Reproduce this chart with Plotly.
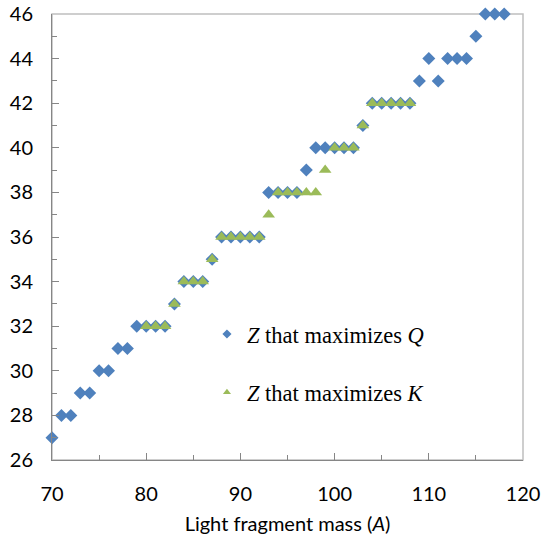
import plotly.graph_objects as go

mass_q = list(range(70, 119))
z_q = [27, 28, 28, 29, 29, 30, 30, 31, 31, 32, 32, 32, 32, 33, 34, 34, 34, 35,
       36, 36, 36, 36, 36, 38, 38, 38, 38, 39, 40, 40, 40, 40, 40, 41, 42, 42,
       42, 42, 42, 43, 44, 43, 44, 44, 44, 45, 46, 46, 46]
mass_k = list(range(80, 109))
z_k = [32, 32, 32, 33, 34, 34, 34, 35, 36, 36, 36, 36, 36, 37, 38, 38, 38, 38,
       38, 39, 40, 40, 40, 41, 42, 42, 42, 42, 42]

x_ticks = [70, 80, 90, 100, 110, 120]
y_ticks = [26, 28, 30, 32, 34, 36, 38, 40, 42, 44, 46]

name_q = "<i>Z</i> that maximizes <i>Q</i>"
name_k = "<i>Z</i> that maximizes <i>K</i>"

blue = "#4F81BD"
green = "#9BBB59"

fig = go.Figure()
fig.add_trace(go.Scatter(
    x=mass_q, y=z_q, mode="markers", name=name_q, showlegend=False,
    marker=dict(symbol="diamond", size=10, color=blue), cliponaxis=False))
fig.add_trace(go.Scatter(
    x=mass_k, y=z_k, mode="markers", name=name_k, showlegend=False,
    marker=dict(symbol="triangle-up", size=11, color=green), cliponaxis=False))
# legend entries (small markers, as in the reference legend)
fig.add_trace(go.Scatter(
    x=[None], y=[None], mode="markers", name=name_q, legendgroup="q",
    marker=dict(symbol="diamond", size=7, color=blue)))
fig.add_trace(go.Scatter(
    x=[None], y=[None], mode="markers", name=name_k, legendgroup="k",
    marker=dict(symbol="triangle-up", size=7, color=green)))

axis_font = dict(family="Lato, 'Open Sans', sans-serif", size=20, color="black")

fig.update_layout(
    width=542, height=543,
    margin=dict(l=52, r=19, t=14, b=83),
    paper_bgcolor="white", plot_bgcolor="white",
    showlegend=True,
    legend=dict(
        x=0.329, y=0.33, xanchor="left", yanchor="top",
        font=dict(family="'Liberation Serif', serif", size=22.5, color="black"),
        bgcolor="rgba(0,0,0,0)", traceorder="grouped", tracegroupgap=26,
        itemsizing="trace"),
    xaxis=dict(
        range=[70, 120], tickvals=x_ticks, ticks="inside", ticklen=7,
        tickcolor="#868686", showline=True, linecolor="#868686", linewidth=1,
        showgrid=False, zeroline=False, tickfont=axis_font, automargin=False,
        ticklabelstandoff=16,
        minor=dict(dtick=5, ticks="inside", ticklen=5, tickcolor="#868686"),
        title=dict(text="Light fragment mass (<i>A</i>)", font=axis_font, standoff=12)),
    yaxis=dict(
        range=[26, 46], tickvals=y_ticks, ticks="inside", ticklen=7,
        tickcolor="#868686", showline=True, linecolor="#868686", linewidth=1,
        showgrid=False, zeroline=False, tickfont=axis_font, ticklabelstandoff=14,
        automargin=False,
        minor=dict(dtick=1, ticks="inside", ticklen=5, tickcolor="#868686")),
    shapes=[dict(type="rect", xref="paper", yref="paper", x0=0, x1=1, y0=0, y1=1,
                 line=dict(color="#BFBFBF", width=1.5), layer="below")],
)

fig.write_html("out.html", config={"displayModeBar": False},
               post_script="document.body.style.margin='0';")
